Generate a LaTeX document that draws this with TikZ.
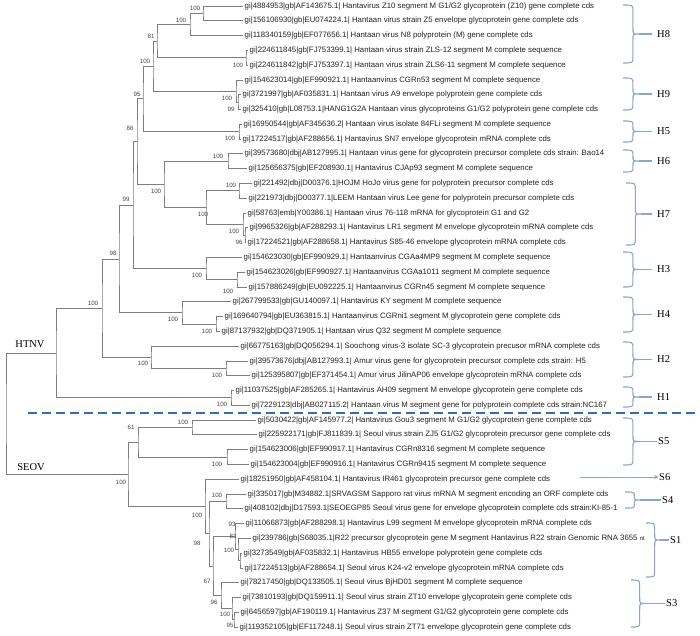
\documentclass[tikz,border=0pt]{standalone}
\usepackage{fontspec}
\setmainfont{Liberation Sans}
\newfontfamily\serifx{Liberation Serif}
\usetikzlibrary{calc,arrows.meta}
\definecolor{treec}{RGB}{125,125,125}
\definecolor{leafc}{RGB}{35,35,35}
\definecolor{bsc}{RGB}{70,70,70}
\definecolor{bracec}{RGB}{140,166,196}
\definecolor{dashc}{RGB}{52,108,178}
\newcommand\tn[4]{\path ($(#3)!0.5!(#4)$) coordinate (#1m); \coordinate (#1) at (#2,0 |- #1m);}
\newcommand\cbr[7]{%
\draw[bline] (#2,#3) .. controls ({#2+0.62*#6},#3) and ({#2+0.62*#6},#3) .. ({#2+0.62*#6},{#3+#7})
 -- ({#2+0.62*#6},{#5-#7}) .. controls ({#2+0.62*#6},#5) and ({#2+0.62*#6},#5) .. ({#2+#6},#5) coordinate (#1)
 .. controls ({#2+0.62*#6},#5) and ({#2+0.62*#6},#5) .. ({#2+0.62*#6},{#5+#7})
 -- ({#2+0.62*#6},{#4-#7}) .. controls ({#2+0.62*#6},#4) and ({#2+0.62*#6},#4) .. (#2,#4);}
\begin{document}
\begin{tikzpicture}[x=1pt,y=-1pt,
  br/.style={draw=treec, line width=0.85pt},
  leaf/.style={anchor=west, inner xsep=1.5pt, inner ysep=0pt, font=\fontsize{7.8}{9}\selectfont, text=leafc},
  bs/.style={inner sep=0pt, font=\fontsize{6.2}{7}\selectfont, text=bsc},
  clab/.style={inner sep=0pt, font=\serifx\fontsize{10.5}{12}\selectfont},
  grp/.style={anchor=west, inner sep=0pt, font=\serifx\fontsize{10.5}{12}\selectfont},
  bline/.style={draw=bracec, line width=1.1pt},
  sepline/.style={draw=dashc, line width=2.2pt, dash pattern=on 9pt off 5pt}]
\fill[white] (0,0) rectangle (700,635);
\useasboundingbox (0,0) rectangle (700,635);
% leaves
\node[leaf] (t1) at (243,6.0) {gi|4884953|gb|AF143675.1| Hantavirus Z10 segment M G1/G2 glycoprotein (Z10) gene complete cds};
\node[leaf] (t2) at (243,20.8) {gi|156106930|gb|EU074224.1| Hantaan virus strain Z5 envelope glycoprotein gene complete cds};
\node[leaf] (t3) at (243,35.6) {gi|118340159|gb|EF077656.1| Hantaan virus N8 polyprotein (M) gene complete cds};
\node[leaf] (t4) at (248,50.4) {gi|224611845|gb|FJ753399.1| Hantaan virus strain ZLS-12 segment M complete sequence};
\node[leaf] (t5) at (248,65.2) {gi|224611842|gb|FJ753397.1| Hantaan virus strain ZLS6-11 segment M complete sequence};
\node[leaf] (t6) at (243,80.0) {gi|154623014|gb|EF990921.1| Hantaanvirus CGRn53 segment M complete sequence};
\node[leaf] (t7) at (241,94.7) {gi|3721997|gb|AF035831.1| Hantaan virus A9 envelope polyprotein gene complete cds};
\node[leaf] (t8) at (241,109.5) {gi|325410|gb|L08753.1|HANG1G2A Hantaan virus glycoproteins G1/G2 polyprotein gene complete cds};
\node[leaf] (t9) at (242,124.3) {gi|16950544|gb|AF345636.2| Hantaan virus isolate 84FLi segment M complete sequence};
\node[leaf] (t10) at (241,139.1) {gi|17224517|gb|AF288656.1| Hantavirus SN7 envelope glycoprotein mRNA complete cds};
\node[leaf] (t11) at (243,153.9) {gi|39573680|dbj|AB127995.1| Hantaan virus gene for glycoprotein precursor complete cds strain: Bao14};
\node[leaf] (t12) at (247,168.7) {gi|125656375|gb|EF208930.1| Hantavirus CJAp93 segment M complete sequence};
\node[leaf] (t13) at (252,183.5) {gi|221492|dbj|D00376.1|HOJM HoJo virus gene for polyprotein precursor complete cds};
\node[leaf] (t14) at (247,198.3) {gi|221973|dbj|D00377.1|LEEM Hantaan virus Lee gene for polyprotein precursor complete cds};
\node[leaf] (t15) at (246,213.1) {gi|58763|emb|Y00386.1| Hantaan virus 76-118 mRNA for glycoprotein G1 and G2};
\node[leaf] (t16) at (248,227.9) {gi|9965326|gb|AF288293.1| Hantavirus LR1 segment M envelope glycoprotein mRNA complete cds};
\node[leaf] (t17) at (246,242.6) {gi|17224521|gb|AF288658.1| Hantavirus S85-46 envelope glycoprotein mRNA complete cds};
\node[leaf] (t18) at (242,257.4) {gi|154623030|gb|EF990929.1| Hantaanvirus CGAa4MP9 segment M complete sequence};
\node[leaf] (t19) at (245,272.2) {gi|154623026|gb|EF990927.1| Hantaanvirus CGAa1011 segment M complete sequence};
\node[leaf] (t20) at (247,287.0) {gi|157886249|gb|EU092225.1| Hantaanvirus CGRn45 segment M complete sequence};
\node[leaf] (t21) at (231,301.8) {gi|267799533|gb|GU140097.1| Hantavirus KY segment M complete sequence};
\node[leaf] (t22) at (223,316.6) {gi|169640794|gb|EU363815.1| Hantaanvirus CGRni1 segment M glycoprotein gene complete cds};
\node[leaf] (t23) at (220,331.4) {gi|87137932|gb|DQ371905.1| Hantaan virus Q32 segment M complete sequence};
\node[leaf] (t24) at (239,346.2) {gi|66775163|gb|DQ056294.1| Soochong virus-3 isolate SC-3 glycoprotein precusor mRNA complete cds};
\node[leaf] (t25) at (248,361.0) {gi|39573676|dbj|AB127993.1| Amur virus gene for glycoprotein precursor complete cds strain: H5};
\node[leaf] (t26) at (250,375.8) {gi|125395807|gb|EF371454.1| Amur virus JilinAP06 envelope glycoprotein mRNA complete cds};
\node[leaf] (t27) at (234,390.5) {gi|11037525|gb|AF285265.1| Hantavirus AH09 segment M envelope glycoprotein gene complete cds};
\node[leaf] (t28) at (250,405.3) {gi|7229123|dbj|AB027115.2| Hantaan virus M segment gene for polyprotein complete cds strain:NC167};
\node[leaf] (t29) at (256,420.1) {gi|5030422|gb|AF145977.2| Hantavirus Gou3 segment M G1/G2 glycoprotein gene complete cds};
\node[leaf] (t30) at (257,434.9) {gi|225922171|gb|FJ811839.1| Seoul virus strain ZJ5 G1/G2 glycoprotein precursor gene complete cds};
\node[leaf] (t31) at (248,449.7) {gi|154623006|gb|EF990917.1| Hantavirus CGRn8316 segment M complete sequence};
\node[leaf] (t32) at (249,464.5) {gi|154623004|gb|EF990916.1| Hantavirus CGRn9415 segment M complete sequence};
\node[leaf] (t33) at (239,479.3) {gi|18251950|gb|AF458104.1| Hantavirus IR461 glycoprotein precursor gene complete cds};
\node[leaf] (t34) at (246,494.1) {gi|335017|gb|M34882.1|SRVAGSM Sapporo rat virus mRNA M segment encoding an ORF complete cds};
\node[leaf] (t35) at (243,508.9) {gi|408102|dbj|D17593.1|SEOEGP85 Seoul virus gene for envelope glycoprotein complete cds strain:KI-85-1};
\node[leaf] (t36) at (244,523.7) {gi|11066873|gb|AF288298.1| Hantavirus L99 segment M envelope glycoprotein mRNA complete cds};
\node[leaf] (t37) at (251,538.5) {gi|239786|gb|S68035.1|R22 precursor glycoprotein gene M segment Hantavirus R22 strain Genomic RNA 3655 {\fontsize{6}{7}\selectfont nt}};
\node[leaf] (t38) at (242,553.2) {gi|3273549|gb|AF035832.1| Hantavirus HB55 envelope polyprotein gene complete cds};
\node[leaf] (t39) at (243,568.0) {gi|17224513|gb|AF288654.1| Seoul virus K24-v2 envelope glycoprotein mRNA complete cds};
\node[leaf] (t40) at (239,582.8) {gi|78217450|gb|DQ133505.1| Seoul virus BjHD01 segment M complete sequence};
\node[leaf] (t41) at (241,597.6) {gi|73810193|gb|DQ159911.1| Seoul virus strain ZT10 envelope glycoprotein gene complete cds};
\node[leaf] (t42) at (239,612.4) {gi|6456597|gb|AF190119.1| Hantavirus Z37 M segment G1/G2 glycoprotein gene complete cds};
\node[leaf] (t43) at (238,627.2) {gi|119352105|gb|EF117248.1| Seoul virus strain ZT71 envelope glycoprotein gene complete cds};
% internal nodes
\tn{A}{203}{t1.west}{t2.west}
\tn{B}{190}{A}{t3.west}
\tn{D}{246}{t4.west}{t5.west}
\tn{C}{157}{B}{D}
\tn{G}{238}{t7.west}{t8.west}
\tn{F}{236}{t6.west}{G}
\tn{E}{153}{C}{F}
\tn{P}{239}{t9.west}{t10.west}
\tn{H}{143}{E}{P}
\tn{K6}{228}{t11.west}{t12.west}
\tn{L}{239}{t13.west}{t14.west}
\tn{N}{245}{t16.west}{t17.west}
\tn{M}{243}{t15.west}{N}
\tn{K7}{206}{L}{M}
\tn{J}{164}{K6}{K7}
\tn{I}{137}{H}{J}
\tn{R3}{237}{t19.west}{t20.west}
\tn{Q}{206}{t18.west}{R3}
\tn{K}{133}{I}{Q}
\tn{U}{216}{t22.west}{t23.west}
\tn{HF}{182}{t21.west}{U}
\tn{R}{119}{K}{HF}
\tn{W}{226}{t25.west}{t26.west}
\tn{V}{151}{t24.west}{W}
\tn{T}{102}{R}{V}
\tn{Y}{231}{t27.west}{t28.west}
\tn{X}{56}{T}{Y}
\tn{SA}{192}{t29.west}{t30.west}
\tn{SB}{227}{t31.west}{t32.west}
\tn{AA}{138}{SA}{SB}
\tn{DD}{226}{t34.west}{t35.west}
\tn{Sc}{240}{t38.west}{t39.west}
\tn{Sb}{238}{t37.west}{Sc}
\tn{Sa}{235}{t36.west}{Sb}
\tn{JJ}{234}{t42.west}{t43.west}
\tn{KK}{232}{t41.west}{JJ}
\tn{II}{221}{t40.west}{KK}
\tn{HH}{213}{Sa}{II}
\tn{GG}{209}{DD}{HH}
\tn{BB}{205}{t33.west}{GG}
\tn{SE}{128}{AA}{BB}
\tn{Z}{6}{X}{SE}
% branches
\draw[br] (t1.west) -| (A) |- (t2.west);
\draw[br] (A) -| (B) |- (t3.west);
\draw[br] (t4.west) -| (D) |- (t5.west);
\draw[br] (B) -| (C) |- (D);
\draw[br] (t7.west) -| (G) |- (t8.west);
\draw[br] (t6.west) -| (F) |- (G);
\draw[br] (C) -| (E) |- (F);
\draw[br] (t9.west) -| (P) |- (t10.west);
\draw[br] (E) -| (H) |- (P);
\draw[br] (t11.west) -| (K6) |- (t12.west);
\draw[br] (t13.west) -| (L) |- (t14.west);
\draw[br] (t16.west) -| (N) |- (t17.west);
\draw[br] (t15.west) -| (M) |- (N);
\draw[br] (L) -| (K7) |- (M);
\draw[br] (K6) -| (J) |- (K7);
\draw[br] (H) -| (I) |- (J);
\draw[br] (t19.west) -| (R3) |- (t20.west);
\draw[br] (t18.west) -| (Q) |- (R3);
\draw[br] (I) -| (K) |- (Q);
\draw[br] (t22.west) -| (U) |- (t23.west);
\draw[br] (t21.west) -| (HF) |- (U);
\draw[br] (K) -| (R) |- (HF);
\draw[br] (t25.west) -| (W) |- (t26.west);
\draw[br] (t24.west) -| (V) |- (W);
\draw[br] (R) -| (T) |- (V);
\draw[br] (t27.west) -| (Y) |- (t28.west);
\draw[br] (T) -| (X) |- (Y);
\draw[br] (t29.west) -| (SA) |- (t30.west);
\draw[br] (t31.west) -| (SB) |- (t32.west);
\draw[br] (SA) -| (AA) |- (SB);
\draw[br] (t34.west) -| (DD) |- (t35.west);
\draw[br] (t38.west) -| (Sc) |- (t39.west);
\draw[br] (t37.west) -| (Sb) |- (Sc);
\draw[br] (t36.west) -| (Sa) |- (Sb);
\draw[br] (t42.west) -| (JJ) |- (t43.west);
\draw[br] (t41.west) -| (KK) |- (JJ);
\draw[br] (t40.west) -| (II) |- (KK);
\draw[br] (Sa) -| (HH) |- (II);
\draw[br] (DD) -| (GG) |- (HH);
\draw[br] (t33.west) -| (BB) |- (GG);
\draw[br] (AA) -| (SE) |- (BB);
\draw[br] (X) -| (Z) |- (SE);
% bootstrap values
\node[bs] (bA) at (195,8) {100};
\node[bs] (bB) at (181,20) {100};
\node[bs] (bC) at (151,36) {81};
\node[bs] (bD) at (238,65) {100};
\node[bs] (bE) at (145,61) {100};
\node[bs] (bF) at (227,98) {100};
\node[bs] (bG) at (231,109) {99};
\node[bs] (bH) at (137,94) {95};
\node[bs] (bP) at (230,138) {100};
\node[bs] (bI) at (130,128) {86};
\node[bs] (bK6) at (218,156) {100};
\node[bs] (bJ) at (156,191) {100};
\node[bs] (bL) at (231,185) {100};
\node[bs] (bK7) at (203,214) {100};
\node[bs] (bM) at (234,231) {100};
\node[bs] (bN) at (239,242) {96};
\node[bs] (bK) at (126,199) {99};
\node[bs] (bQ) at (197,275) {100};
\node[bs] (bR3) at (228,291) {100};
\node[bs] (bR) at (113,253) {98};
\node[bs] (bT) at (93,303) {100};
\node[bs] (bHF) at (173,319) {100};
\node[bs] (bU) at (207,331) {100};
\node[bs] (bV) at (143,363) {100};
\node[bs] (bW) at (217,375) {100};
\node[bs] (bY) at (222,404) {100};
\node[bs] (bSE) at (121,482) {100};
\node[bs] (bAA) at (131,427) {61};
\node[bs] (bSA) at (183,422) {100};
\node[bs] (bSB) at (217,464) {100};
\node[bs] (bBB) at (197,515) {100};
\node[bs] (bDD) at (217,495) {100};
\node[bs] (bGG) at (197,543) {98};
\node[bs] (bSa) at (232,524) {93};
\node[bs] (bSb) at (233,536) {83};
\node[bs] (bSc) at (229,550) {100};
\node[bs] (bHH) at (207,581) {67};
\node[bs] (bII) at (214,602) {96};
\node[bs] (bKK) at (225,614) {100};
\node[bs] (bJJ) at (230,625) {95};
% clade names
\node[clab] (htnv) at (30,344) {HTNV};
\node[clab] (seov) at (31,467) {SEOV};
% separator
\coordinate (dl) at (28,413);
\coordinate (dr) at (700,413);
\draw[sepline] (dl) -- (dr);
% braces and group labels
\cbr{H8t}{623}{5}{63}{34}{16}{6}
\cbr{H9t}{623}{78}{110}{94}{16}{6}
\cbr{H5t}{623}{121}{142}{131.5}{16}{5}
\cbr{H6t}{623}{150}{172}{161}{16}{5}
\cbr{H7t}{626}{183}{245}{214}{15}{6}
\cbr{H3t}{623}{252}{287}{269.5}{16}{6}
\cbr{H4t}{623}{297}{332}{314.5}{16}{6}
\cbr{H2t}{623}{342}{377}{359.5}{16}{6}
\cbr{H1t}{623}{387}{407}{397}{16}{5}
\cbr{S5t}{623}{418}{465}{441.5}{16}{6}
\cbr{S4t}{625}{492}{508}{500}{15}{4}
\cbr{S1t}{646}{523}{577}{540}{14}{6}
\cbr{S3t}{631}{580}{627}{603.5}{14}{6}
\node[grp] (H8) at (657,34) {H8};
\node[grp] (H9) at (657,94) {H9};
\node[grp] (H5) at (657,131.5) {H5};
\node[grp] (H6) at (657,161) {H6};
\node[grp] (H7) at (657,214) {H7};
\node[grp] (H3) at (657,269.5) {H3};
\node[grp] (H4) at (657,314.5) {H4};
\node[grp] (H2) at (657,359.5) {H2};
\node[grp] (H1) at (657,397) {H1};
\node[grp] (S5) at (658,441.5) {S5};
\node[grp] (S6) at (659,477) {S6};
\node[grp] (S4) at (662,500) {S4};
\node[grp] (S1) at (670,540) {S1};
\node[grp] (S3) at (666,603.5) {S3};
\foreach \g in {H8,H9,H5,H6,H7,H3,H4,H2,H1}{\draw[bline] (\g t) -- ([xshift=-5pt]\g.west);}
\foreach \g in {S5,S4,S1,S3}{\draw[bline] (\g t) -- ([xshift=-1pt]\g.west);}
\coordinate (S6s) at (580,477);
\draw[bline, line width=0.9pt, -{Stealth[length=5pt,width=4pt]}] (S6s) -- (S6.west);
\end{tikzpicture}
\end{document}
